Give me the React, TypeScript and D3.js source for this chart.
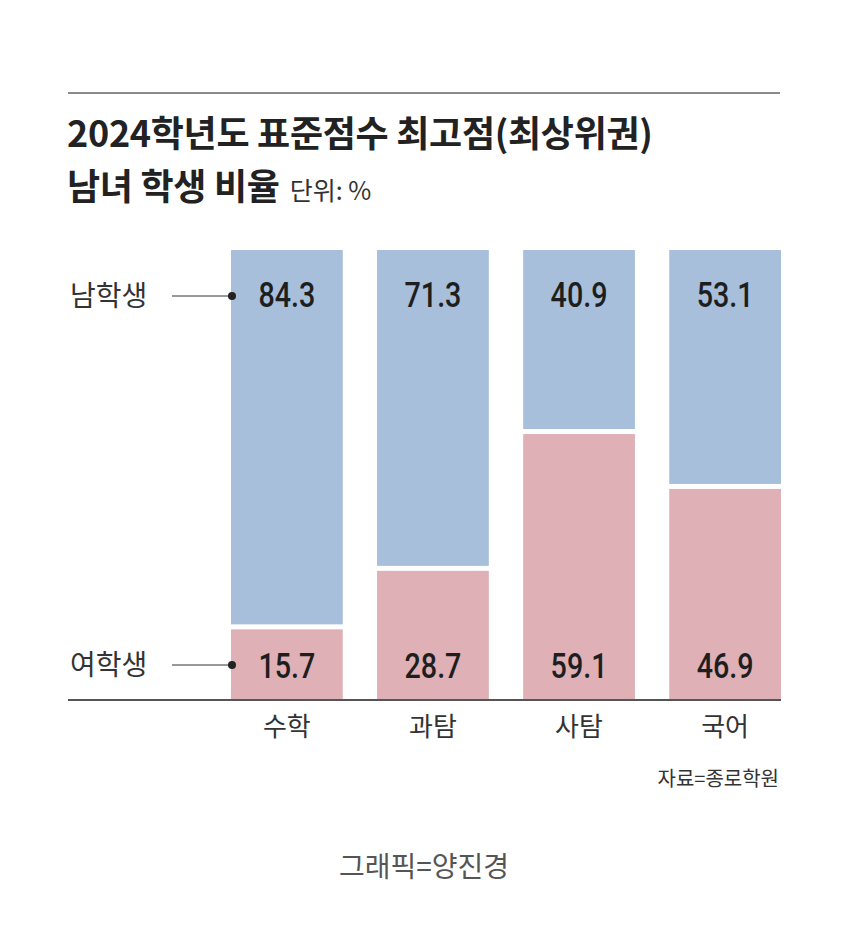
import * as d3 from "d3";
import React, { useEffect, useRef } from "react";

const subjects = ["수학", "과탐", "사탐", "국어"];
const maleShare = [84.3, 71.3, 40.9, 53.1];
const femaleShare = [15.7, 28.7, 59.1, 46.9];
const seriesLabels = ["남학생", "여학생"];

const KR = "'Noto Sans CJK KR', 'Noto Sans', sans-serif";
const NUM = "Roboto, 'Noto Sans', sans-serif";

function drawChart(node: SVGSVGElement) {
  const svg = d3.select(node);
  svg.selectAll("*").remove();

  const left = 68,
    right = 781,
    top = 250,
    bottom = 700;

  // top rule
  svg.append("line")
    .attr("x1", left).attr("x2", right - 1)
    .attr("y1", 93).attr("y2", 93)
    .attr("stroke", "#8a8a8a").attr("stroke-width", 2);

  // title
  svg.append("text")
    .attr("x", left - 1).attr("y", 147)
    .attr("font-family", KR).attr("font-weight", 700)
    .attr("font-size", 36).attr("letter-spacing", -0.3)
    .attr("fill", "#222")
    .text("2024학년도 표준점수 최고점(최상위권)");

  const t2 = svg.append("text")
    .attr("x", left - 1).attr("y", 200)
    .attr("font-family", KR).attr("fill", "#222");
  t2.append("tspan").attr("font-weight", 700).attr("font-size", 36).attr("letter-spacing", -0.3)
    .text("남녀 학생 비율");
  t2.append("tspan").attr("dx", 10).attr("font-weight", 400).attr("font-size", 25).attr("fill", "#333")
    .text("단위: %");

  const x = d3.scaleBand<string>().domain(subjects).range([231, right]).paddingInner(0.235).paddingOuter(0);
  const y = d3.scaleLinear().domain([0, 100]).range([bottom, top]);
  const gap = 5;

  const rows = subjects.map((s, i) => ({ s, m: maleShare[i], f: femaleShare[i] }));

  const g = svg.append("g");
  // female (bottom)
  g.selectAll("rect.f")
    .data(rows)
    .join("rect")
    .attr("class", "f")
    .attr("x", d => x(d.s)!)
    .attr("width", x.bandwidth())
    .attr("y", d => y(d.f))
    .attr("height", d => y(0) - y(d.f))
    .attr("fill", "#dfb0b5");
  // male (top)
  g.selectAll("rect.m")
    .data(rows)
    .join("rect")
    .attr("class", "m")
    .attr("x", d => x(d.s)!)
    .attr("width", x.bandwidth())
    .attr("y", y(100))
    .attr("height", d => y(d.f) - y(100) - gap)
    .attr("fill", "#a7bfdb");

  // values (narrow numbers, squeezed horizontally)
  const valueY = [294.5, 665.5];
  [
    { cls: "mv", key: "m" as const, yy: valueY[0] },
    { cls: "fv", key: "f" as const, yy: valueY[1] },
  ].forEach(({ cls, key, yy }) => {
    g.selectAll(`text.${cls}`)
      .data(rows)
      .join("text")
      .attr("class", cls)
      .attr("transform", d => `translate(${x(d.s)! + x.bandwidth() / 2},${yy}) scale(0.82,1)`)
      .attr("dy", "0.355em")
      .attr("text-anchor", "middle")
      .attr("font-family", NUM).attr("font-weight", 500).attr("font-size", 35)
      .attr("fill", "#1e1e1e")
      .text(d => d[key].toFixed(1));
  });

  // baseline
  svg.append("line")
    .attr("x1", left).attr("x2", right)
    .attr("y1", bottom).attr("y2", bottom)
    .attr("stroke", "#555").attr("stroke-width", 2);

  // category labels
  svg.append("g")
    .selectAll("text")
    .data(subjects)
    .join("text")
    .attr("x", d => x(d)! + x.bandwidth() / 2)
    .attr("y", 727)
    .attr("dy", "0.35em")
    .attr("text-anchor", "middle")
    .attr("font-family", KR).attr("font-size", 26)
    .attr("fill", "#333")
    .text(d => d);

  // series callouts
  const callY = [296, 665];
  seriesLabels.forEach((lab, i) => {
    svg.append("text")
      .attr("x", left + 2).attr("y", callY[i]).attr("dy", "0.35em")
      .attr("font-family", KR).attr("font-size", 28).attr("fill", "#333")
      .text(lab);
    svg.append("line")
      .attr("x1", 172).attr("x2", x(subjects[0])!)
      .attr("y1", callY[i]).attr("y2", callY[i])
      .attr("stroke", "#333").attr("stroke-width", 1);
    svg.append("circle")
      .attr("cx", x(subjects[0])! + 1).attr("cy", callY[i]).attr("r", 4)
      .attr("fill", "#222");
  });

  // source
  svg.append("text")
    .attr("x", right - 2).attr("y", 779).attr("dy", "0.35em")
    .attr("text-anchor", "end")
    .attr("font-family", KR).attr("font-size", 20).attr("fill", "#333")
    .text("자료=종로학원");

  svg.append("text")
    .attr("x", 424).attr("y", 867).attr("dy", "0.35em")
    .attr("text-anchor", "middle")
    .attr("font-family", KR).attr("font-size", 28).attr("fill", "#555")
    .text("그래픽=양진경");
}

export default function App() {
  const ref = useRef<SVGSVGElement>(null);
  useEffect(() => {
    if (ref.current) drawChart(ref.current);
  }, []);
  return (
    <svg
      ref={ref}
      width={850}
      height={934}
      style={{ position: "absolute", left: 0, top: 0, background: "#fff" }}
    />
  );
}
